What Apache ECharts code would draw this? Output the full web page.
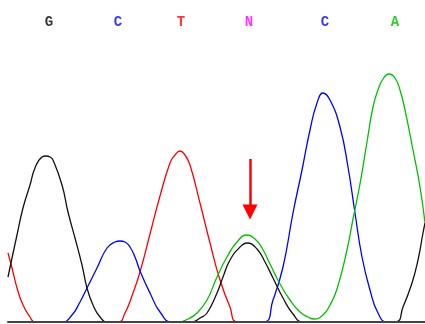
<!DOCTYPE html>
<html>
<head>
<meta charset="utf-8">
<script src="https://cdn.jsdelivr.net/npm/echarts@6/dist/echarts.min.js"></script>
<style>
html,body{margin:0;padding:0;background:#fff;}
#c{width:425px;height:324px;}
</style>
</head>
<body>
<div id="c"></div>
<script>
// Trace data: [scan position, intensity]
var traceG = [[8,45],[12,64],[17,87],[23,114],[30,137],[35,154],[42,165],[46,166],[50,165],[53,162],[62,137],[68,110],[75,84],[82,57],[87,34],[93,17],[100,5],[107,0],[192,0],[200,4],[207,9],[217,29],[223,45],[230,62],[240,75],[247,79],[257,73],[265,60],[273,44],[283,24],[293,8],[303,0],[395,0],[403,15],[412,39],[418,62],[423,89],[425,99]];
var traceT = [[8,69],[12,54],[17,34],[23,17],[30,5],[35,0],[118,0],[125,9],[133,29],[140,50],[150,88],[160,126],[170,159],[175,167],[180,171],[185,167],[190,157],[200,119],[210,79],[220,42],[230,15],[238,0],[425,0]];
var traceC = [[8,0],[62,0],[72,7],[80,20],[87,34],[97,54],[107,74],[115,80],[120,81],[125,80],[130,75],[135,65],[140,51],[150,29],[160,10],[172,0],[263,0],[273,22],[283,55],[293,109],[302,152],[310,192],[317,219],[323,229],[330,222],[340,195],[348,155],[355,109],[362,65],[370,32],[378,9],[387,0],[425,0]];
var traceA = [[8,0],[178,0],[188,3],[197,9],[207,22],[217,45],[227,65],[237,80],[247,87],[255,83],[262,74],[270,58],[280,38],[290,22],[300,10],[308,5],[314,3],[323,7],[330,17],[337,33],[347,72],[353,103],[360,138],[367,180],[373,215],[378,232],[383,243],[389,248],[395,244],[400,232],[405,212],[413,172],[420,135],[425,99]];

// Base calls
var baseNames = ['G','C','T','N','C','A'];
var basePos = [49,118,181,249,325,395];
var baseColors = ['#000000','#0000ff','#ff0000','#ff00ff','#0000ff','#00c000'];
var baseLabelLevel = 300;

// Arrow annotation (points at the N call)
var arrowPos = 250;
var arrowFrom = 163;
var arrowTo = 110;

var chart = echarts.init(document.getElementById('c'), null, {renderer:'canvas'});

function trace(data, color) {
  return {
    type: 'line',
    data: data,
    smooth: 0.5,
    showSymbol: false,
    symbol: 'none',
    silent: true,
    lineStyle: {color: color, width: 1.3},
    z: 3
  };
}

var labelData = baseNames.map(function(n, i){
  return {
    name: n,
    value: [basePos[i], baseLabelLevel],
    label: {color: baseColors[i]}
  };
});

var option = {
  animation: false,
  backgroundColor: '#ffffff',
  grid: {left: 8, right: 0, top: 0, bottom: 2, containLabel: false},
  xAxis: {
    type: 'value', min: 8, max: 425, z: 10,
    axisLine: {show: true, lineStyle: {color: '#444444', width: 2}},
    axisTick: {show: false}, axisLabel: {show: false}, splitLine: {show: false}
  },
  yAxis: {
    type: 'value', min: 0, max: 322,
    axisLine: {show: false}, axisTick: {show: false}, axisLabel: {show: false}, splitLine: {show: false}
  },
  series: [
    trace(traceT, '#ff0000'),
    trace(traceC, '#0000ff'),
    trace(traceG, '#111111'),
    trace(traceA, '#00c000'),
    {
      type: 'scatter',
      data: labelData,
      symbolSize: 1,
      silent: true,
      itemStyle: {color: 'rgba(0,0,0,0)'},
      label: {
        show: true, position: 'inside',
        formatter: function(p){ return p.name; },
        fontFamily: 'Liberation Mono', fontSize: 14, fontWeight: 'bold'
      },
      markLine: {
        silent: true,
        symbol: ['none', 'triangle'],
        symbolSize: 15,
        label: {show: false},
        lineStyle: {color: '#ff0000', width: 2.5, type: 'solid'},
        data: [[{coord: [arrowPos, arrowFrom]}, {coord: [arrowPos, arrowTo]}]]
      }
    }
  ]
};
chart.setOption(option);
</script>
</body>
</html>
